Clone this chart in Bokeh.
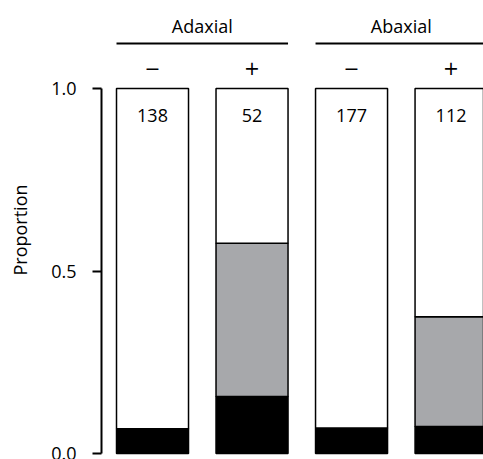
from bokeh.plotting import figure
from bokeh.models import ColumnDataSource, FixedTicker, PrintfTickFormatter, Range1d
from bokeh.core.properties import value
from bokeh.embed import file_html
from bokeh.resources import INLINE

# ---- data ----
groups = ["Adaxial", "Abaxial"]
signs = ["\u2212", "+", "\u2212", "+"]
counts = [138, 52, 177, 112]
black_prop = [0.068, 0.156, 0.070, 0.074]
gray_prop = [0.0, 0.420, 0.0, 0.301]
white_prop = [round(1 - b - g, 3) for b, g in zip(black_prop, gray_prop)]
ticks = [0.0, 0.5, 1.0]

FONT = "Open Sans"
FS = "18px"
BAR_W = 0.7236

xs = list(range(len(counts)))
src = ColumnDataSource(dict(x=xs, black=black_prop, gray=gray_prop, white=white_prop,
                            sign=signs, n=[str(c) for c in counts]))

p = figure(width=483, height=459, output_backend="svg", toolbar_location=None,
           x_range=Range1d(-0.5126, 3.326), y_range=Range1d(-0.01644, 1.2411),
           x_axis_type=None, min_border_left=101, min_border_right=0,
           min_border_top=0, min_border_bottom=0)
p.outline_line_color = None
p.xgrid.visible = False
p.ygrid.visible = False
p.background_fill_color = "white"

p.vbar_stack(["black", "gray", "white"], x="x", width=BAR_W, source=src,
             fill_color=["black", "#A7A8AB", "white"], line_color="black", line_width=1.5)

# counts inside bars
p.text(x="x", y=0.926, text="n", source=src, text_align="center", text_baseline="middle",
       text_font=value(FONT), text_font_size=value(FS), text_color="black")
# sign labels
p.text(x="x", y=1.0575, text="sign", source=src, text_align="center", text_baseline="middle",
       text_font=value("DejaVu Sans"), text_font_size=value("19px"), text_color="black")

# group headers
gsrc = ColumnDataSource(dict(
    x0=[xs[0] - BAR_W / 2, xs[2] - BAR_W / 2],
    x1=[xs[1] + BAR_W / 2, xs[3] + BAR_W / 2],
    xc=[(xs[0] + xs[1]) / 2, (xs[2] + xs[3]) / 2],
    name=groups))
p.segment(x0="x0", x1="x1", y0=1.1233, y1=1.1233, source=gsrc, line_color="black", line_width=2)
p.text(x="xc", y=1.1726, text="name", source=gsrc, text_align="center", text_baseline="middle",
       text_font=value(FONT), text_font_size=value(FS), text_color="black")

ax = p.yaxis[0]
ax.ticker = FixedTicker(ticks=ticks)
ax.formatter = PrintfTickFormatter(format="%.1f")
ax.bounds = (0, 1)
ax.axis_label = "Proportion"
ax.axis_label_text_font = FONT
ax.axis_label_text_font_size = FS
ax.axis_label_text_font_style = "normal"
ax.axis_label_text_color = "black"
ax.axis_label_standoff = 16
ax.major_label_text_font = FONT
ax.major_label_text_font_size = FS
ax.major_label_text_color = "black"
ax.major_label_standoff = 16
ax.major_tick_out = 9
ax.major_tick_in = 0
ax.minor_tick_out = 0
ax.minor_tick_in = 0
ax.axis_line_width = 2
ax.major_tick_line_width = 2

open("out.html", "w").write(file_html(p, INLINE))
